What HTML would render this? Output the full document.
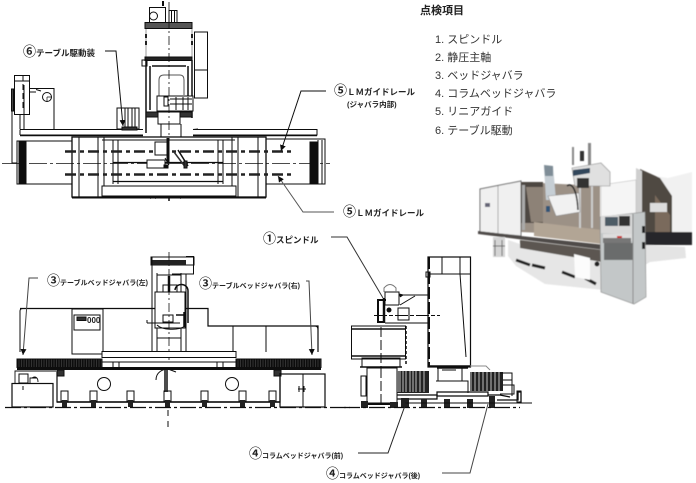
<!DOCTYPE html>
<html><head><meta charset="utf-8"><style>
html,body{margin:0;padding:0;background:#fff;width:696px;height:483px;overflow:hidden}
svg{display:block}
text{font-family:"Liberation Sans","Noto Sans CJK JP",sans-serif}
.l text{font-weight:700;fill:#222}
.l tspan.c{font-size:13px;font-weight:700}
</style></head><body>
<svg width="696" height="483" viewBox="0 0 696 483" xmlns="http://www.w3.org/2000/svg">
<defs>
<filter id="b" x="-5%" y="-5%" width="110%" height="110%"><feGaussianBlur stdDeviation="0.35"/></filter>
<filter id="p" x="-5%" y="-5%" width="110%" height="110%"><feGaussianBlur stdDeviation="0.5"/></filter>
<marker id="a" markerWidth="7" markerHeight="7" refX="6" refY="3" orient="auto"><path d="M0 0L6 3L0 6z" fill="#111"/></marker>
</defs>

<g filter="url(#b)" fill="none" stroke="#111" stroke-width="1">
<!-- TOP VIEW -->
<rect x="149.500" y="7.500" width="16" height="15"/><circle cx="153.500" cy="16" r="4"/>
<rect x="169" y="10.500" width="8" height="12"/><path d="M171.500 10V22M174.500 10V22"/><path d="M163 1L163 6" stroke-width="2"/>
<rect x="145" y="22.500" width="47" height="6" fill="#555" stroke="#111"/>
<path d="M146 34V46M192 34V46" stroke-width="2" stroke-dasharray="4 3"/>
<path d="M146 29V58M192 29V58" stroke="#555" stroke-width=".6"/>
<rect x="194.500" y="32" width="13" height="38"/><path d="M194.500 70V98H207.500V70"/>
<rect x="145" y="57" width="47" height="3.500" fill="#222"/>
<rect x="142" y="60" width="5" height="6"/>
<path d="M146 60V133M192 60V118M150 66V110M188 66V108M152 66H186" stroke-width="1.500"/>
<path d="M159 108V80Q159 75 164 75H180Q184 75 184 80V95" stroke="#555"/>
<rect x="157" y="96" width="36" height="15" fill="#fff"/><rect x="164" y="97" width="4" height="9"/><path d="M170 104H192M176 97V110M183 97V110M188 97V110M170 99H192"/>
<rect x="146" y="112" width="46" height="5" fill="#333"/>
<rect x="158" y="112" width="22" height="12" fill="#fff"/>
<path d="M161 124V142M181 124V142"/>
<path d="M169 2V140" stroke-dasharray="9 3 2 3" stroke-width=".8"/>
<!-- left motor -->
<rect x="14.500" y="75.500" width="15" height="39"/><path d="M14.500 81H29.500M24 85V114"/><path d="M23 75V110" stroke-dasharray="6 3"/>
<path d="M30 88.500H54V129M30 92H36M36 89.500L41 91"/><circle cx="47" cy="97" r="4.500"/><path d="M47 97V102M47 97H52" stroke-width=".7"/>
<rect x="11.500" y="89" width="2" height="22" fill="#444"/><path d="M12 111V163H17M20 115V129M24 115V129"/>
<!-- table -->
<path d="M20 129.500H143M20 135H143M20 129.500V135M193 129.500H317V135H193M193 129.500L198 129"/>
<path d="M20 135.500H143M193 135.500H317" stroke-width="1.500"/>
<rect x="17" y="141" width="55" height="43"/><rect x="265" y="139" width="60" height="45"/>
<rect x="19" y="142" width="7" height="42" fill="#111"/><rect x="310" y="142" width="8" height="42" fill="#111"/><path d="M318 140V184M322 140V184"/>
<rect x="72" y="137" width="194" height="60" fill="#fff" stroke-width="1.300"/>
<path d="M72 197.500H266" stroke-width="2"/>
<path d="M79 137V197M98 137V197M104 137V186M113 140V184M118 140V184M218 140V184M223 140V184M232 137V186M238 137V197M258 137V197"/>
<path d="M102 137H235M102 140H235" stroke-width="1"/>
<rect x="102" y="186" width="134" height="10"/>
<path d="M113 181.500H223M113 162.500H223" stroke-width="1.300"/>
<path d="M65 151.500H291M65 174.500H291" stroke="#222" stroke-width="2.400" stroke-dasharray="11 4 4 4"/>
<path d="M2 163.500H330" stroke-width=".8" stroke-dasharray="18 3 3 3"/>
<!-- spindle in top view -->
<rect x="155" y="142" width="14" height="13" fill="#fff"/><path d="M168 138V162" stroke-width="3"/>
<rect x="147" y="160" width="18" height="8" fill="#fff"/><path d="M165 158L169 165"/><path d="M178 150L188 166" stroke-width="1.500"/><path d="M174 152L186 168" stroke-width="1.500" stroke="#333"/>
<rect x="164" y="165" width="4" height="3" fill="#111"/><rect x="184" y="161" width="3" height="7" fill="#333"/>
<path d="M150 198h1M155 198h1M169 198v3M180 198h1" stroke-width="1.500"/>

<!-- top leaders -->
<path d="M105 51H116L123 126" marker-end="url(#a)"/>
<path d="M326 91H301L281 151" marker-end="url(#a)"/>
<path d="M334 212H303L278 176" marker-end="url(#a)" stroke="#555"/>
<rect x="117" y="108" width="22" height="21"/><path d="M125 108V128M128 108V128M132 108V128M135 108V128"/><rect x="122" y="127" width="15" height="3" fill="#333"/>

<!-- FRONT VIEW -->
<rect x="151" y="257" width="43" height="8"/><rect x="152" y="260" width="34" height="5" fill="#222" stroke="none"/>
<path d="M186 256.500H193.500V274H172" stroke-width="1"/>
<path d="M152 257V351M157 273V351M181 273V351M186 274V351" stroke-width="1"/>
<path d="M157 275H181M157 338H181"/>
<path d="M20 308.500H208V326H318V352" stroke-width="1.200"/><path d="M20 352V311Q20 308.500 23 308.500M318 330Q318 326 315 326"/>
<rect x="72" y="309" width="31" height="45"/>
<rect x="74" y="315" width="26" height="15"/><rect x="77" y="317" width="9" height="3.500" fill="#333"/><text x="87" y="323" font-size="8" fill="#222" stroke="none" font-weight="700">000</text>
<path d="M233 326V352M266 326V352"/>
<rect x="155" y="292" width="30" height="36" fill="#fff"/><rect x="163" y="285" width="14" height="7" fill="#fff"/><path d="M169 276V292" stroke-width="2.500"/>
<path d="M175 290C176 282 188 283 188 291V323" stroke-width="1.500"/>
<path d="M147 323H180M147 320V323M157 325C162 330 178 331 185 326"/><rect x="163" y="315" width="10" height="7"/><path d="M176 315H184M184 312V327" stroke-width="1.500"/>
<path d="M169 252V360" stroke-dasharray="9 3 2 3" stroke-width=".8"/>
<rect x="102" y="351.500" width="134" height="6" fill="#fff"/>
<path d="M102 362H236" stroke-width="1"/>
<rect x="17" y="359" width="85" height="8.500" fill="#333"/><rect x="236" y="359" width="85" height="8.500" fill="#333"/>
<path d="M17 363H102M236 363H321" stroke="#111" stroke-width="8" stroke-dasharray="1.500 1"/>
<path d="M17 368.500H321" stroke-width="3"/>
<rect x="113" y="362" width="6" height="6"/><rect x="217" y="362" width="6" height="6"/>
<rect x="57" y="370" width="7" height="6" fill="#333"/><rect x="274" y="370" width="7" height="6" fill="#333"/>
<path d="M57 371V402H280V373" stroke-width="1.200"/>
<path d="M57 402H280" stroke-width="1.500"/>
<circle cx="104" cy="384" r="6.500"/><circle cx="232" cy="384" r="6.500"/>
<path d="M156 380C156 372 163 369 168 369M168 369L176 372" stroke-width="1"/>
<path d="M165 370V392M167 370V392" stroke-width="1.500"/>
<g stroke-width="1"><rect x="61" y="391" width="7" height="10"/><rect x="90" y="391" width="7" height="10"/><rect x="127" y="391" width="7" height="10"/><rect x="164" y="391" width="7" height="10"/><rect x="201" y="391" width="7" height="10"/><rect x="239" y="391" width="7" height="10"/><rect x="269" y="391" width="7" height="10"/></g>
<g fill="#222" stroke="none"><rect x="62" y="400" width="5" height="7"/><rect x="91" y="400" width="5" height="7"/><rect x="128" y="400" width="5" height="7"/><rect x="165" y="400" width="5" height="7"/><rect x="202" y="400" width="5" height="7"/><rect x="240" y="400" width="5" height="7"/><rect x="270" y="400" width="5" height="7"/></g>
<rect x="12" y="383.500" width="41" height="23.500" stroke-width="1.200"/><rect x="19" y="374" width="9" height="9"/><path d="M15 383V371H56M30 383V378H37M38 382C38 377 35 376 32 378" stroke-width=".9"/><path d="M23 386V390" />
<rect x="280" y="374" width="45" height="33" stroke-width="1.200"/><path d="M303 374V407M298 389H306M299 386V392M304 386V392" stroke-width="1"/>
<path d="M5 407.500H350" stroke-width="1.200" stroke-dasharray="16 3 3 3"/>
<path d="M168 410V428" stroke-dasharray="6 5"/>
<!-- front leaders -->
<path d="M38 278H29L23 355" marker-end="url(#a)" stroke="#444"/>
<path d="M306 281H309L312 355" marker-end="url(#a)" stroke="#444"/>

<!-- SIDE VIEW -->
<rect x="428" y="257" width="42.500" height="110" stroke-width="1.200"/>
<path d="M429 257V366" stroke-width="2" stroke-dasharray="12 3"/>
<path d="M442 257V274M460 257V274M429 274H470M460 274L466 357" />
<path d="M428 366H470" stroke-width="1.500"/>
<rect x="426" y="272" width="4" height="5"/>
<path d="M428 295H402M400 305L415 296" />
<path d="M399 305V292H385V305H399" fill="none"/><path d="M399 294L403 295L400 297" fill="#111"/>
<path d="M386 300H378V322H384" stroke-width="2"/>
<path d="M384 298L384 323" stroke-width="2.500"/><circle cx="389" cy="310" r="2.500" fill="#111" stroke="none"/>
<path d="M384 292V288Q390 281 396 288V292" stroke="#777"/>
<rect x="398" y="308" width="11" height="12"/>
<path d="M374 315.500H440" stroke-dasharray="13 2 4 2"/>
<path d="M385 323H428"/>
<rect x="351.500" y="326" width="54" height="33"/><path d="M351 329H405M351 356H405" stroke-width="1.500"/>
<path d="M381 327V375" stroke-dasharray="10 3"/>
<path d="M406 326V365" stroke-width="1.500" stroke-dasharray="3 2"/>
<rect x="362" y="358" width="38" height="9"/><path d="M360 367H402" stroke-width="1.500"/>
<rect x="367" y="368" width="30" height="35"/><rect x="361" y="376" width="5" height="20"/>
<path d="M381 368V405" stroke-dasharray="10 3"/>
<path d="M363 404H398" stroke-width="2"/>
<rect x="397" y="371" width="32" height="22" fill="#222" stroke="none"/>
<path d="M398 371V392M400 371V392M403 371V392M406 371V392M410 371V392M413 371V392M416 371V392M420 371V392M424 371V392" stroke="#fff" stroke-width=".7"/>
<rect x="470" y="372" width="33" height="19" fill="#222" stroke="none"/>
<path d="M471 371V392M475 371V392M479 371V392M483 371V392M487 371V392M491 371V392M495 371V392M499 371V392" stroke="#fff" stroke-width=".7"/>
<path d="M438 368V381H462V368M442 370H456" />
<path d="M436 381H468V393"/>
<path d="M437 368H468" stroke-width="1.500"/>
<path d="M470 366H486L490 370" stroke="#888"/>
<path d="M437 392H488V396H437z" stroke-width="1.200"/><path d="M397 395H437V399H397" stroke-width="1.200"/>
<path d="M500 373H512V396M503 380H512M503 385H514V394H500" stroke-width="1"/>
<path d="M488 395H500L510 397M497 400H518V392H521V403" stroke-width="1.300"/>
<rect x="517" y="391" width="4" height="11"/>
<g fill="#222" stroke="none"><rect x="361" y="401" width="7" height="7"/><rect x="390" y="402" width="8" height="6"/><rect x="401" y="398" width="8" height="10"/><rect x="421" y="399" width="6" height="9"/><rect x="444" y="399" width="6" height="9"/><rect x="467" y="399" width="6" height="9"/><rect x="489" y="396" width="6" height="12"/></g>
<path d="M405 403H532" stroke-width="1"/>
<path d="M344 407.500H520" stroke-width="1.200" stroke-dasharray="16 3 3 3"/>
<!-- side leaders -->
<path d="M331 237H347L383 298" stroke="#333"/>
<path d="M358 453H388L407 400" stroke="#222"/>
<path d="M442 473H470L488 404" stroke="#444"/>
</g>

<!-- Labels -->
<g class="l">
<text x="23" y="56" font-size="8.500"><tspan class="c">⑥</tspan>テーブル駆動装</text>
<text x="334" y="95" font-size="8.500"><tspan class="c">⑤</tspan>ＬＭガイドレール</text>
<text x="347" y="107" font-size="7.500">(ジャバラ内部)</text>
<text x="343" y="216" font-size="8.500"><tspan class="c">⑤</tspan>ＬＭガイドレール</text>
<text x="263" y="243" font-size="8.500"><tspan class="c">①</tspan>スピンドル</text>
<text x="47" y="285" font-size="7"><tspan class="c">③</tspan>テーブルベッドジャバラ(左)</text>
<text x="199" y="288" font-size="7"><tspan class="c">③</tspan>テーブルベッドジャバラ(右)</text>
<text x="249" y="458" font-size="7"><tspan class="c">④</tspan>コラムベッドジャバラ(前)</text>
<text x="326" y="478" font-size="7"><tspan class="c">④</tspan>コラムベッドジャバラ(後)</text>
</g>

<text x="420" y="14" font-size="11" font-weight="700" fill="#222">点検項目</text>
<g font-size="11" fill="#333">
<text x="435" y="43">1. スピンドル</text>
<text x="435" y="61">2. 静圧主軸</text>
<text x="435" y="79">3. ベッドジャバラ</text>
<text x="435" y="97">4. コラムベッドジャバラ</text>
<text x="435" y="115">5. リニアガイド</text>
<text x="435" y="134">6. テーブル駆動</text>
</g>

<!-- Photo -->
<g filter="url(#p)">
<path d="M640 174L668 178L692 172V238H646z" fill="#f1f1f1"/>
<path d="M640 169L660 178L672 196V236H642z" fill="#4f4842"/>
<path d="M655 195V232H670V215z" fill="#7a6a5c"/>
<rect x="650" y="203" width="17" height="9" fill="#ddd"/>
<path d="M636 168L642 171V236H636z" fill="#cfcfcf"/>
<path d="M521 183L541 183L600 186V236L521 232Z" fill="#9c9186"/>
<path d="M601 185L636 180V238H601z" fill="#f5f5f5" stroke="#bbb" stroke-width=".6"/>
<path d="M480 189L521 181V236L480 232Z" fill="#f0f0f0" stroke="#666" stroke-width="1"/>
<path d="M498 186V233" stroke="#aaa" fill="none"/>
<rect x="485" y="203" width="5" height="4" fill="#667"/>
<path d="M521 182H543V223H521z" fill="#4d4742"/>
<path d="M526 187H543V222H531z" fill="#8d8277"/>
<rect x="522" y="185" width="3" height="45" fill="#aaa"/>
<path d="M478 231L521 236L605 245V250L525 240L478 234z" fill="#4f4b48"/>
<path d="M534 222L602 230V244L534 236z" fill="#b2a595"/>
<path d="M580 186V228M592 186V228" stroke="#ccc" fill="none" stroke-width="2"/>
<path d="M544 167L553 166L556 200H546z" fill="#c6ced4"/>
<path d="M544 165L553 166V176H545z" fill="#7f8d97"/>
<rect x="546" y="206" width="4" height="6" fill="#357"/>
<path d="M548 196L579 193L580 212L556 216Z" fill="#f1f1f1" stroke="#888" stroke-width=".6"/>
<path d="M567 186C572 182 577 190 578 210" stroke="#222" stroke-width="1.500" fill="none"/>
<rect x="572" y="147" width="2" height="18" fill="#888"/><rect x="588" y="143" width="3" height="24" fill="#888"/><rect x="580" y="151" width="4" height="10" fill="#333"/>
<path d="M572 168L601 163L610 172V186L575 186Z" fill="#e0e0e0" stroke="#888" stroke-width=".6"/>
<path d="M573 170L590 168V173L573 176Z" fill="#33465c"/>
<rect x="577" y="178" width="12" height="10" fill="#333"/>
<path d="M508 240L520 244L600 262L604 290L545 284L516 266L508 256z" fill="#e6e6e6"/>
<path d="M520 240L602 250V262L520 248z" fill="#5b5651"/>
<path d="M493 237H505V257H493z" fill="#d5d5d5"/><path d="M495 240V256M502 240V256M493 246H505" stroke="#666" fill="none"/>
<path d="M516 260L530 265M532 265L545 268M562 272L575 277M585 278L596 284" stroke="#222" stroke-width="3" fill="none"/>
<path d="M574 254L590 258V280L575 277Z" fill="#fcfcfc"/>
<circle cx="597" cy="264" r="2.500" fill="#222"/>
<path d="M645 232H692V245H645z" fill="#26282a"/>
<path d="M645 245L685 247L686 258L650 262L645 265Z" fill="#e4e4e4"/>
<path d="M600 217L645 212L646 297L634 304L601 292Z" fill="#c3c7c8" stroke="#888" stroke-width=".6"/>
<path d="M601 216L632 214V235L601 233z" fill="#d8d8d8"/>
<rect x="605" y="217" width="13" height="9" fill="#4e5b66"/><rect x="619" y="216" width="11" height="10" fill="#333"/>
<rect x="603" y="234" width="29" height="7" fill="#ddd"/>
<rect x="603" y="238" width="28" height="5" fill="#777"/>
<rect x="604" y="243" width="29" height="17" fill="#555" opacity=".8"/>
<rect x="617" y="236" width="5" height="2" fill="#c33"/>
<rect x="642" y="226" width="3" height="7" fill="#222"/><rect x="642" y="242" width="3" height="7" fill="#222"/>
<path d="M633 214V304" stroke="#8a8a8a" fill="none"/>
</g>
</svg>
</body></html>
